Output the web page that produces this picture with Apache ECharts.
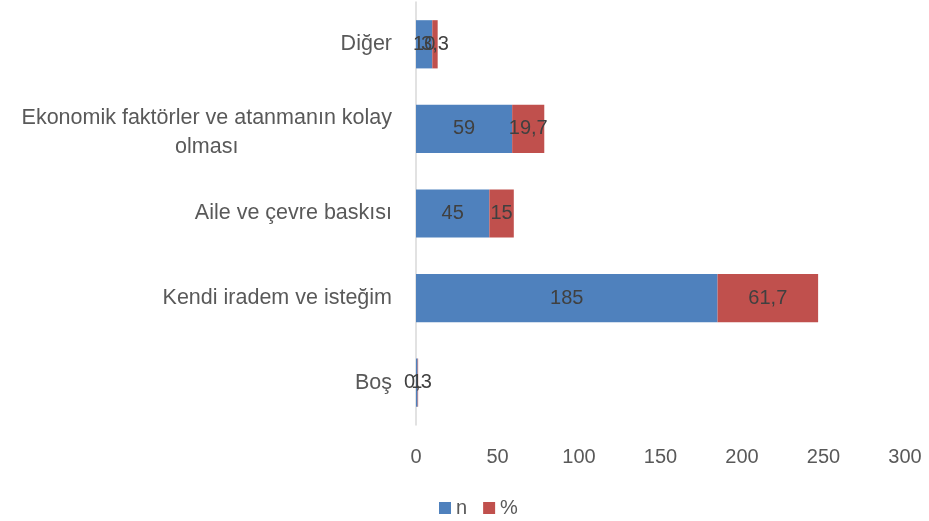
<!DOCTYPE html>
<html><head><meta charset="utf-8">
<script src="https://cdn.jsdelivr.net/npm/echarts@6/dist/echarts.min.js"></script>
<style>html,body{margin:0;padding:0;background:#fff}#c{width:929px;height:521px}</style>
</head><body><div id="c"></div>
<script>
var categories = ['Boş', 'Kendi iradem ve isteğim', 'Aile ve çevre baskısı', 'Ekonomik faktörler ve atanmanın kolay olması', 'Diğer'];
var nValues = [1, 185, 45, 59, 10];
var pctValues = [0.3, 61.7, 15, 19.7, 3.3];
var xTicks = [0, 50, 100, 150, 200, 250, 300];

var chart = echarts.init(document.getElementById('c'));
var font = 'Liberation Sans';
function fmt(p){ return String(p.value).replace('.', ','); }
chart.setOption({
  animation: false,
  textStyle: {fontFamily: font},
  grid: {left: 416, right: 24, top: 2, bottom: 96},
  legend: {
    bottom: -2, left: 434, itemWidth: 12, itemHeight: 12, itemGap: 16,
    icon: 'rect',
    textStyle: {fontSize: 20, color: '#595959', fontFamily: font},
    data: ['n', '%']
  },
  xAxis: {
    type: 'value', min: 0, max: 300, interval: 50,
    axisLine: {show: false}, axisTick: {show: false},
    splitLine: {show: false},
    axisLabel: {fontSize: 20, color: '#595959', margin: 22, fontFamily: font}
  },
  yAxis: {
    type: 'category', data: categories,
    axisLine: {show: true, lineStyle: {color: '#d9d9d9', width: 1.5}},
    axisTick: {show: false},
    axisLabel: {
      fontSize: 21.5, color: '#595959', margin: 24, fontFamily: font,
      formatter: function(v){
        if (v.indexOf('kolay ') > -1) {
          var i = v.indexOf('kolay ') + 5;
          return '{s| }\n{a|' + v.slice(0, i) + '}\n{a|' + v.slice(i + 1) + '}';
        }
        return '{a|' + v + '}';
      },
      rich: {
        a: {align: 'center', fontSize: 21.5, color: '#595959', fontFamily: font, lineHeight: 29},
        s: {fontSize: 1, lineHeight: 7}
      }
    }
  },
  series: [
    {name: 'n', type: 'bar', stack: 's', data: nValues, barWidth: '57%',
     itemStyle: {color: '#4f81bd'},
     label: {show: true, position: 'inside', fontSize: 20, color: '#404040', fontFamily: font, formatter: fmt}},
    {name: '%', type: 'bar', stack: 's', data: pctValues, barWidth: '57%',
     itemStyle: {color: '#c0504d'},
     label: {show: true, position: 'inside', fontSize: 20, color: '#404040', fontFamily: font, formatter: fmt}}
  ]
});
</script></body></html>
